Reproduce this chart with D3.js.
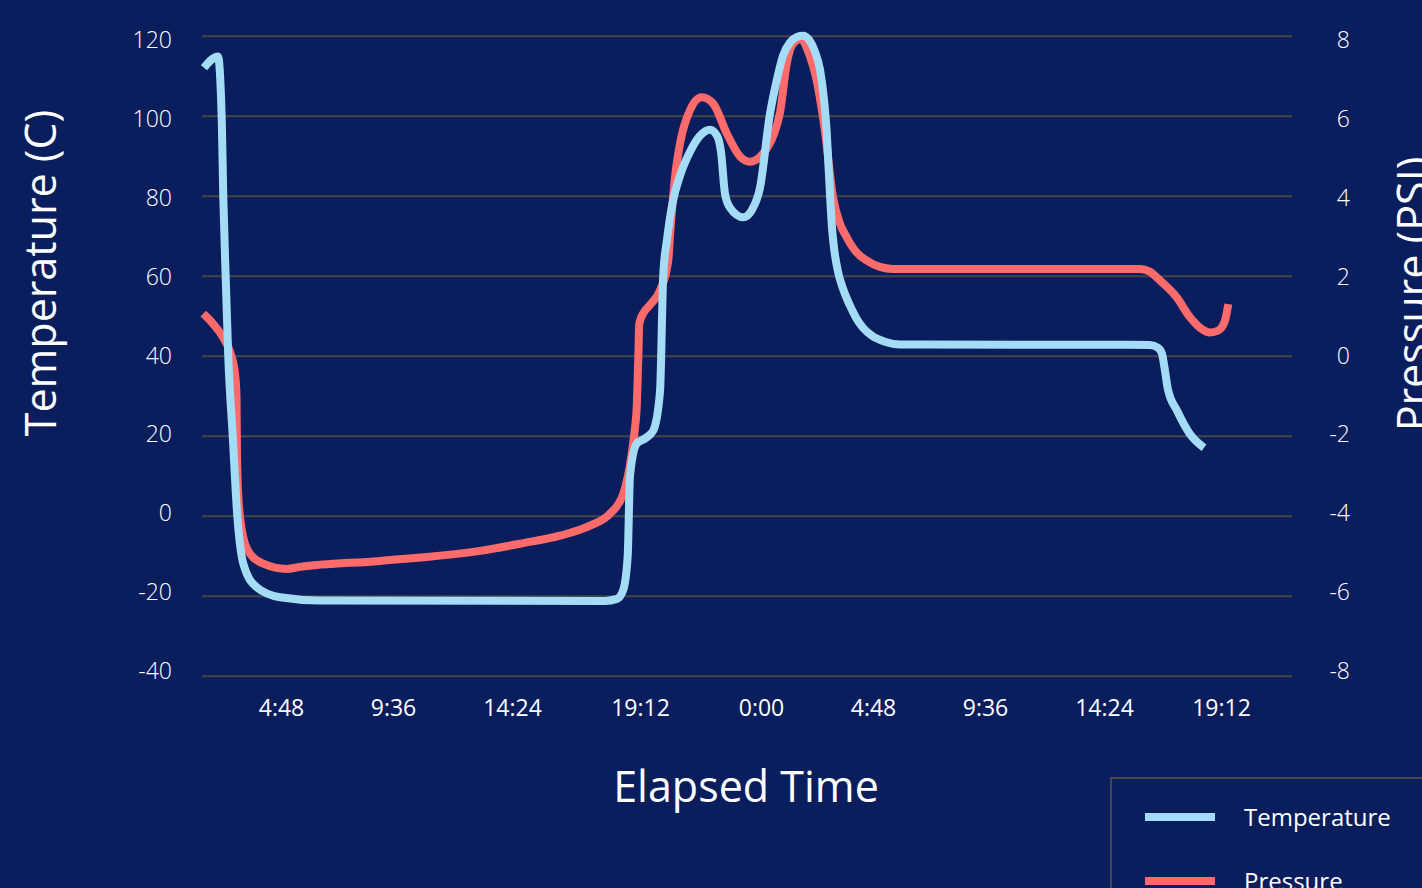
<!DOCTYPE html>
<html>
<head>
<meta charset="utf-8">
<script src="https://cdn.jsdelivr.net/npm/d3@7"></script>
<style>
  html, body { margin: 0; padding: 0; background: #0a1e5e; }
  svg { display: block; }
  text { font-family: "Open Sans", "Noto Sans", sans-serif; fill: #ffffff; }
</style>
</head>
<body>
<svg id="chart" width="1422" height="888"></svg>
<script>
// ---- data (x = sample position along the elapsed-time axis) ----
const xTickPos = [7.9, 19.1, 31, 43.8, 55.9, 67.1, 78.3, 90.2, 101.9];
const xTickLabels = ["4:48", "9:36", "14:24", "19:12", "0:00", "4:48", "9:36", "14:24", "19:12"];
const tempTicks = [-40, -20, 0, 20, 40, 60, 80, 100, 120];
const pressTicks = [-8, -6, -4, -2, 0, 2, 4, 6, 8];

const temperature = [
  [0.2, 112], [1.6, 114.8], [1.97, 99.6], [2.13, 79.6], [2.37, 59.6], [2.63, 39.6],
  [3.07, 20], [3.53, 0], [4.13, -12], [5.47, -17.9], [7.8, -20.4], [11.8, -21.2],
  [40.3, -21.3], [41.5, -20.8], [42.13, -18.5], [42.57, -10], [42.8, 10], [43.47, 18],
  [44.3, 19.3], [45.13, 21.3], [45.8, 31], [46.13, 60.5], [46.5, 69], [47.0, 77.5],
  [47.8, 85], [48.8, 91], [49.8, 95], [50.8, 96.5], [51.5, 95], [51.9, 91], [52.3, 80.5], [52.8, 77],
  [54.13, 74.6], [55, 76.5], [55.8, 82], [56.8, 100.5], [57.4, 108], [58.1, 115], [58.8, 118.3],
  [59.5, 119.7], [60.1, 120], [60.7, 119], [61.3, 116], [61.8, 111.5], [62.2, 104],
  [62.47, 96], [62.7, 85], [63.0, 72], [63.2, 67], [63.6, 61], [64.0, 57.5], [64.8, 52.5],
  [65.4, 49.5], [66.1, 47], [67.0, 45], [68.3, 43.5], [69.8, 42.8], [94.8, 42.7], [95.6, 42],
  [96.0, 40.5], [96.25, 37], [96.6, 31.5], [97.5, 26.3], [98.8, 20.4], [100.2, 17]
];

const pressure = [
  [0.13, 1.05], [1.13, 0.79], [2.13, 0.45], [2.8, 0.1], [3.3, -0.45], [3.45, -1.0],
  [3.5, -2.5], [3.65, -3.6], [4.13, -4.54], [4.8, -4.95], [6.13, -5.2], [8.47, -5.33],
  [9.8, -5.28], [17.8, -5.13], [27.8, -4.88], [31.8, -4.7], [35.8, -4.5], [38.8, -4.25],
  [40.8, -3.95], [42.13, -3.45], [42.97, -2.45], [43.3, -1.8], [43.47, -1.3], [43.63, -0.04],
  [43.73, 0.8], [44.13, 1.06], [44.8, 1.27], [45.8, 1.63], [46.63, 2.39], [46.8, 3.0],
  [47.3, 4.46], [47.8, 5.3], [48.8, 6.14], [49.97, 6.46], [51.13, 6.3], [52.47, 5.56],
  [53.8, 4.98], [54.8, 4.85], [56.13, 5.06], [57.13, 5.5], [57.8, 6.08], [58.47, 7.3],
  [59.1, 7.8], [59.9, 7.92], [60.7, 7.55], [61.47, 6.88], [62.3, 5.6], [63.1, 3.96],
  [63.8, 3.3], [64.47, 2.96], [65.4, 2.6], [66.47, 2.38], [67.8, 2.22], [69.1, 2.17],
  [93.8, 2.17], [94.8, 2.1], [95.8, 1.88], [97.47, 1.46], [98.8, 0.96], [99.8, 0.7],
  [100.8, 0.58], [101.63, 0.63], [102.3, 0.88], [102.63, 1.29]
];

const seriesNames = ["Temperature", "Pressure"];
const seriesColors = ["#a4dcf6", "#ff6b6b"];

// ---- drawing ----
const svg = d3.select("#chart");
const W = 1422, H = 888;
svg.append("rect").attr("width", W).attr("height", H).attr("fill", "#0a1e5e");

const x = d3.scaleLinear().domain([0, 109]).range([202, 1292]);
const yT = d3.scaleLinear().domain([-40, 120]).range([675.7, 35.7]);
const yP = d3.scaleLinear().domain([-8, 8]).range([675.7, 35.7]);
// tick-label placement scales
const yTLab = d3.scaleLinear().domain([-40, 120]).range([671, 40.5]);
const yPLab = d3.scaleLinear().domain([-8, 8]).range([671, 40.5]);
const plain = d => String(d);

// gridlines
svg.append("g")
  .attr("transform", `translate(${x.range()[0]},0)`)
  .call(d3.axisLeft(yT).tickValues(tempTicks).tickSize(-(x.range()[1] - x.range()[0])).tickFormat(""))
  .call(g => g.select(".domain").remove())
  .call(g => g.selectAll("line").attr("stroke", "#464646").attr("stroke-width", 2));

// left tick labels
svg.append("g")
  .attr("transform", "translate(172,0)")
  .call(d3.axisLeft(yTLab).tickValues(tempTicks).tickFormat(plain).tickSize(0).tickPadding(0))
  .call(g => g.select(".domain").remove())
  .call(g => g.selectAll("text").attr("font-size", 23).attr("font-weight", 300)
      .attr("font-family", '"Open Sans", sans-serif').attr("fill", "#f2f2f2"));

// right tick labels
svg.append("g")
  .attr("transform", "translate(1350,0)")
  .call(d3.axisLeft(yPLab).tickValues(pressTicks).tickFormat(plain).tickSize(0).tickPadding(0))
  .call(g => g.select(".domain").remove())
  .call(g => g.selectAll("text").attr("font-size", 23).attr("font-weight", 300)
      .attr("font-family", '"Open Sans", sans-serif').attr("fill", "#f2f2f2"));

// x tick labels
svg.append("g")
  .attr("transform", "translate(0,700)")
  .call(d3.axisBottom(x).tickValues(xTickPos).tickFormat((d, i) => xTickLabels[i]).tickSize(0).tickPadding(0))
  .call(g => g.select(".domain").remove())
  .call(g => g.selectAll("text").attr("font-size", 23).attr("font-weight", 400)
      .attr("font-family", '"Open Sans", sans-serif').attr("fill", "#ffffff"));

// axis titles
svg.append("text").attr("transform", "translate(56,273) rotate(-90)")
  .attr("text-anchor", "middle").attr("font-size", 43).text("Temperature (C)");
svg.append("text").attr("transform", "translate(1428,294) rotate(-90)")
  .attr("text-anchor", "middle").attr("font-size", 43).text("Pressure (PSI)");
svg.append("text").attr("x", 746).attr("y", 802)
  .attr("text-anchor", "middle").attr("font-size", 43).text("Elapsed Time");

// lines
const lineT = d3.line().x(d => x(d[0])).y(d => yT(d[1])).curve(d3.curveMonotoneX);
const lineP = d3.line().x(d => x(d[0])).y(d => yP(d[1])).curve(d3.curveMonotoneX);

svg.append("path").datum(pressure).attr("d", lineP)
  .attr("fill", "none").attr("stroke", seriesColors[1]).attr("stroke-width", 8)
  .attr("stroke-linejoin", "round");
svg.append("path").datum(temperature).attr("d", lineT)
  .attr("fill", "none").attr("stroke", seriesColors[0]).attr("stroke-width", 8)
  .attr("stroke-linejoin", "round");

// legend
const lg = svg.append("g");
lg.append("rect").attr("x", 1111).attr("y", 778).attr("width", 400).attr("height", 200)
  .attr("fill", "none").attr("stroke", "#464646").attr("stroke-width", 2);
seriesNames.forEach((name, i) => {
  const cy = 817 + i * 64;
  lg.append("line").attr("x1", 1145).attr("x2", 1215).attr("y1", cy).attr("y2", cy)
    .attr("stroke", seriesColors[i]).attr("stroke-width", 8);
  lg.append("text").attr("x", 1244).attr("y", cy + 9).attr("font-size", 24).text(name);
});
</script>
</body>
</html>
